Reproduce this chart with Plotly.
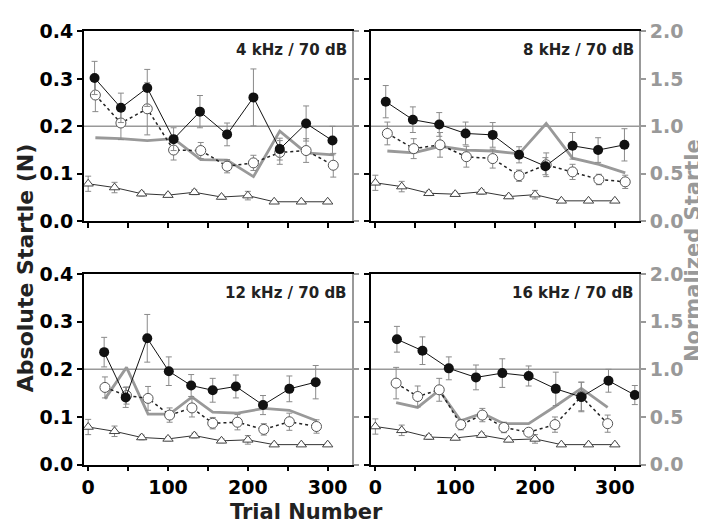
import plotly.graph_objects as go

# trial bins (x) and values
tri_x = [0, 33, 67, 100, 133, 167, 200, 233, 267, 300]
tri_err = [0.016, 0.011, 0.005, 0.004, 0.005, 0.004, 0.009, 0.003, 0.003, 0.003]

# 4 kHz
fx4 = [8, 41, 74, 107, 140, 174, 207, 240, 273, 306]
fy4 = [0.302, 0.239, 0.281, 0.173, 0.231, 0.183, 0.261, 0.152, 0.206, 0.170]
fe4 = [0.035, 0.031, 0.039, 0.024, 0.034, 0.024, 0.060, 0.023, 0.037, 0.030]
ox4 = [9, 41, 74, 107, 141, 174, 207, 240, 273, 307]
oy4 = [0.266, 0.207, 0.237, 0.150, 0.149, 0.116, 0.123, 0.145, 0.149, 0.118]
oe4 = [0.035, 0.035, 0.055, 0.021, 0.017, 0.014, 0.016, 0.025, 0.025, 0.025]
g4 = [0.88, 0.87, 0.85, 0.87, 0.65, 0.645, 0.47, 0.95, 0.72, 0.70]
t4 = [0.079, 0.071, 0.058, 0.055, 0.061, 0.051, 0.054, 0.041, 0.041, 0.041]

# 8 kHz
fx8 = [13, 47, 80, 113, 147, 180, 213, 247, 279, 312]
fy8 = [0.252, 0.214, 0.204, 0.185, 0.182, 0.140, 0.116, 0.159, 0.150, 0.161]
fe8 = [0.034, 0.027, 0.025, 0.024, 0.026, 0.017, 0.018, 0.028, 0.026, 0.034]
ox8 = [15, 48, 81, 114, 147, 180, 214, 247, 280, 313]
oy8 = [0.185, 0.153, 0.161, 0.136, 0.132, 0.096, 0.119, 0.104, 0.088, 0.083]
oe8 = [0.024, 0.021, 0.026, 0.022, 0.020, 0.012, 0.025, 0.016, 0.011, 0.014]
g8 = [0.74, 0.72, 0.79, 0.75, 0.74, 0.71, 1.03, 0.665, 0.60, 0.51]
t8 = [0.081, 0.073, 0.059, 0.057, 0.062, 0.052, 0.056, 0.043, 0.043, 0.043]

# 12 kHz
fx12 = [20, 47, 74, 101, 129, 156, 185, 219, 252, 285]
fy12 = [0.236, 0.141, 0.265, 0.196, 0.166, 0.156, 0.164, 0.125, 0.159, 0.173]
fe12 = [0.031, 0.021, 0.050, 0.030, 0.023, 0.025, 0.024, 0.020, 0.027, 0.035]
ox12 = [21, 48, 75, 102, 130, 156, 187, 220, 252, 286]
oy12 = [0.162, 0.145, 0.139, 0.104, 0.119, 0.087, 0.089, 0.074, 0.090, 0.080]
oe12 = [0.022, 0.018, 0.025, 0.015, 0.019, 0.012, 0.016, 0.012, 0.018, 0.014]
g12 = [0.69, 1.02, 0.53, 0.53, 0.71, 0.55, 0.54, 0.59, 0.57, 0.46]
t12 = [0.079, 0.070, 0.057, 0.054, 0.061, 0.050, 0.052, 0.042, 0.042, 0.042]

# 16 kHz
fx16 = [27, 59, 92, 126, 159, 192, 226, 258, 292, 325]
fy16 = [0.263, 0.239, 0.202, 0.183, 0.192, 0.186, 0.159, 0.142, 0.176, 0.146]
fe16 = [0.027, 0.029, 0.024, 0.026, 0.030, 0.021, 0.035, 0.031, 0.024, 0.020]
ox16 = [26, 53, 80, 107, 134, 161, 192, 225, 258, 291]
oy16 = [0.171, 0.143, 0.157, 0.084, 0.104, 0.078, 0.068, 0.084, 0.143, 0.086]
oe16 = [0.033, 0.022, 0.024, 0.011, 0.014, 0.011, 0.006, 0.016, 0.030, 0.018]
g16 = [0.65, 0.60, 0.78, 0.46, 0.54, 0.43, 0.43, 0.61, 0.80, 0.60]
t16 = [0.080, 0.072, 0.058, 0.056, 0.062, 0.052, 0.054, 0.042, 0.042, 0.042]

labels = ["4 kHz / 70 dB", "8 kHz / 70 dB", "12 kHz / 70 dB", "16 kHz / 70 dB"]
panels = [
    (fx4, fy4, fe4, ox4, oy4, oe4, g4, t4),
    (fx8, fy8, fe8, ox8, oy8, oe8, g8, t8),
    (fx12, fy12, fe12, ox12, oy12, oe12, g12, t12),
    (fx16, fy16, fe16, ox16, oy16, oe16, g16, t16),
]

W, H = 706, 529
GRAY = "#999999"
FONT = "DejaVu Sans"

# panel boxes in pixels: left, right, top, bottom
boxes = [(74, 343, 13, 211), (362, 631, 13, 211),
         (74, 343, 266, 465), (362, 631, 266, 465)]

fig = go.Figure()
err_style = dict(type="data", color="#8a8a8a", thickness=1, width=3)

for i, (fx, fy, fe, ox, oy, oe, g, t) in enumerate(panels):
    n = i + 1
    xa = "x" if n == 1 else "x%d" % n
    yn = "y" if n == 1 else "y%d" % n      # normalized (right)
    ya = "y%d" % (n + 4)                   # absolute (left)

    fig.add_trace(go.Scatter(x=ox, y=g, xaxis=xa, yaxis=yn, mode="lines",
                             line=dict(color=GRAY, width=2.8)))
    fig.add_trace(go.Scatter(x=tri_x, y=t, xaxis=xa, yaxis=ya, mode="lines+markers",
                             line=dict(color="#333", width=1),
                             marker=dict(symbol="triangle-up", size=9, color="white",
                                         line=dict(color="#444", width=1)),
                             error_y=dict(array=tri_err, **err_style)))
    fig.add_trace(go.Scatter(x=ox, y=oy, xaxis=xa, yaxis=ya, mode="lines+markers",
                             line=dict(color="#222", width=1.5, dash="dot"),
                             marker=dict(symbol="circle", size=10, color="white",
                                         line=dict(color="#555", width=1)),
                             error_y=dict(array=oe, **err_style)))
    fig.add_trace(go.Scatter(x=fx, y=fy, xaxis=xa, yaxis=ya, mode="lines+markers",
                             line=dict(color="#111", width=1),
                             marker=dict(symbol="circle", size=10, color="#111"),
                             error_y=dict(array=fe, **err_style)))

layout = dict(width=W, height=H, showlegend=False,
              margin=dict(l=0, r=0, t=0, b=0),
              paper_bgcolor="white", plot_bgcolor="white",
              font=dict(family=FONT, size=19, color="black", weight="bold"))
shapes = []
annotations = []

for i, (l, r, tp, bt) in enumerate(boxes):
    n = i + 1
    xk = "xaxis" if n == 1 else "xaxis%d" % n
    ynk = "yaxis" if n == 1 else "yaxis%d" % n
    yak = "yaxis%d" % (n + 4)
    xa = "x" if n == 1 else "x%d" % n
    yn = "y" if n == 1 else "y%d" % n
    xdom = [l / W, r / W]
    ydom = [1 - bt / H, 1 - tp / H]
    bottom_row = n > 2
    left_col = n % 2 == 1

    layout[xk] = dict(domain=xdom, range=[-5.5, 330.5], anchor=yn,
                      tickvals=[0, 50, 100, 150, 200, 250, 300],
                      ticktext=["0", "", "100", "", "200", "", "300"],
                      showticklabels=bottom_row, ticks="outside", ticklen=5,
                      tickwidth=1.5, tickcolor="black", showline=True,
                      linecolor="black", linewidth=1.5, mirror=True,
                      showgrid=False, zeroline=False,
                      tickfont=dict(size=19, family=FONT, weight="bold"))
    layout[ynk] = dict(domain=ydom, range=[0, 2], anchor=xa, side="right",
                       tickvals=[0, 0.5, 1.0, 1.5, 2.0], tickformat=".1f",
                       showticklabels=not left_col, ticks="outside", ticklen=5,
                       tickwidth=1.5, tickcolor=GRAY, showline=True,
                       linecolor=GRAY, linewidth=1.5, showgrid=False,
                       zeroline=False,
                       tickfont=dict(size=19, family=FONT, color=GRAY, weight="bold"))
    layout[yak] = dict(domain=ydom, range=[0, 0.4], anchor=xa, side="left",
                       overlaying=yn, tickvals=[0, 0.1, 0.2, 0.3, 0.4],
                       tickformat=".1f", showticklabels=left_col,
                       ticks="outside", ticklen=5, tickwidth=1.5,
                       tickcolor="black", showline=True, linecolor="black",
                       linewidth=1.5, showgrid=False, zeroline=False,
                       tickfont=dict(size=19, family=FONT, weight="bold"))

    shapes.append(dict(type="line", xref=xa + " domain", yref=yn, x0=0, x1=1,
                       y0=1.0, y1=1.0, line=dict(color=GRAY, width=1.5),
                       layer="below"))
    annotations.append(dict(text=labels[i], xref=xa + " domain", yref=yn + " domain",
                            x=1, y=1, xanchor="right", yanchor="top",
                            xshift=-3, yshift=-8, showarrow=False,
                            font=dict(size=15, family=FONT, color="#222", weight="bold")))

annotations.append(dict(text="Absolute Startle (N)", xref="paper", yref="paper",
                        x=15 / W, y=1 - 259 / H, textangle=-90, showarrow=False,
                        xanchor="center", yanchor="middle",
                        font=dict(size=22, family=FONT, color="#222", weight="bold")))
annotations.append(dict(text="Normalized Startle", xref="paper", yref="paper",
                        x=685 / W, y=1 - 242 / H, textangle=-90, showarrow=False,
                        xanchor="center", yanchor="middle",
                        font=dict(size=21, family=FONT, color=GRAY, weight="bold")))
annotations.append(dict(text="Trial Number", xref="paper", yref="paper",
                        x=297 / W, y=1 - 514 / H, showarrow=False,
                        xanchor="center", yanchor="middle",
                        font=dict(size=21, family=FONT, color="#222", weight="bold")))

layout["shapes"] = shapes
layout["annotations"] = annotations
fig.update_layout(**layout)

fig.write_html("out.html")
